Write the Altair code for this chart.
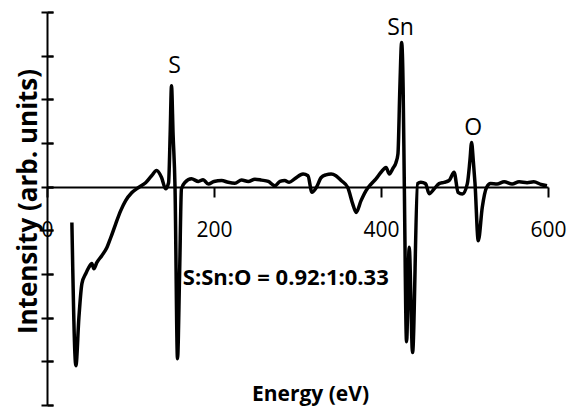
import altair as alt
import pandas as pd

# Spectrum trace (energy in eV, intensity in arbitrary units)
energy = [29.8, 34.6, 38.2, 41.8, 46.5, 50.1, 53.7, 56.1, 59.6, 65.6, 71.6, 76.3, 82.3, 88.3,
          94.2, 101.4, 109.7, 118.1, 125.3, 131.2, 137.2, 142.0, 145.6, 147.5, 149.1, 151.0,
          153.3, 156.3, 158.8, 161.0, 165.4, 173.0, 181.3, 187.0, 193.2, 200.0, 209.2, 217.0,
          225.0, 233.0, 241.0, 249.0, 256.8, 265.0, 272.8, 279.0, 284.7, 290.0, 296.7, 306.6,
          312.5, 317.3, 322.5, 328.4, 334.0, 340.3, 346.0, 352.3, 360.2, 366.2, 370.2, 376.1,
          382.1, 388.1, 394.0, 400.0, 406.0, 410.0, 414.0, 417.9, 420.3, 422.6, 424.7, 426.5,
          427.9, 430.6, 433.8, 437.8, 443.8, 447.7, 453.3, 457.7, 463.7, 469.6, 475.6, 481.6,
          487.5, 492.3, 497.4, 503.4, 506.5, 508.5, 510.5, 512.6, 516.5, 521.3, 526.4, 531.2,
          539.0, 547.5, 557.0, 565.4, 575.0, 583.0, 591.7, 598.8]
intensity = [-0.82, -4.10, -3.00, -2.22, -1.99, -1.85, -1.76, -1.88, -1.74, -1.58, -1.40, -1.17, -0.85, -0.55,
             -0.32, -0.14, -0.02, 0.09, 0.25, 0.37, 0.21, -0.05, 0.09, 1.20, 2.31, 1.20,
             0.00, -3.94, -2.00, -0.05, 0.10, 0.18, 0.12, 0.16, 0.06, 0.12, 0.14, 0.10,
             0.08, 0.15, 0.12, 0.17, 0.15, 0.12, 0.02, 0.12, 0.14, 0.10, 0.18, 0.29,
             0.25, -0.13, -0.02, 0.21, 0.27, 0.29, 0.25, 0.14, -0.02, -0.40, -0.59, -0.32,
             -0.09, 0.06, 0.18, 0.33, 0.44, 0.29, 0.41, 0.55, 0.75, 2.27, 3.30, 2.27,
             0.07, -3.55, -1.39, -3.80, 0.07, 0.10, 0.07, -0.16, -0.05, 0.07, 0.10, 0.14,
             0.33, -0.13, -0.17, 0.07, 0.60, 1.01, 0.60, 0.07, -1.24, -0.47, -0.02, 0.07,
             0.06, 0.11, 0.06, 0.11, 0.09, 0.11, 0.05, 0.02]

# Annotations
ann_text = ["S", "Sn", "O", "S:Sn:O = 0.92:1:0.33"]
ann_energy = [152.7, 423.5, 510.5, 286.0]
ann_intensity = [2.77, 3.64, 1.35, -2.10]
ann_bold = [False, False, False, True]

x_ticks = [0, 200, 400, 600]
y_ticks = [-5, -4, -3, -2, -1, 0, 1, 2, 3, 4]

W, H = 501, 393

spec = pd.DataFrame({"E": energy, "I": intensity})
ann = pd.DataFrame({"t": ann_text, "E": ann_energy, "I": ann_intensity, "b": ann_bold})

xscale = alt.Scale(domain=[0, 600], nice=False)
yscale = alt.Scale(domain=[-5, 4], nice=False)

x_axis = alt.Axis(values=x_ticks, offset=-218, tickSize=10, labelPadding=22,
                  title="Energy (eV)", titleX=263, titleY=207, titleBaseline="middle",
                  titleFontSize=21, titleFontWeight="bold", labelFontSize=21,
                  labelFlush=False, grid=False)
y_axis_left = alt.Axis(values=y_ticks, labels=False, tickSize=6, grid=False,
                       title="Intensity (arb. units)", titleX=-19, titleY=189,
                       titleAngle=-90, titleBaseline="middle", titleAlign="center",
                       titleFontSize=26, titleFontWeight="bold")
y_axis_right = alt.Axis(orient="right", offset=-W, values=y_ticks, labels=False,
                        domain=False, tickSize=6, title=None, grid=False)

line = alt.Chart(spec).mark_line(
    color="black", strokeWidth=3.5, interpolate="monotone", strokeJoin="round"
).encode(
    x=alt.X("E:Q", scale=xscale, axis=x_axis),
    y=alt.Y("I:Q", scale=yscale, axis=y_axis_left),
    order="E:Q",
)

txt_regular = alt.Chart(ann[~ann["b"]]).mark_text(
    font="Open Sans", fontSize=23, color="black", baseline="middle", align="center"
).encode(
    x=alt.X("E:Q", scale=xscale, axis=x_axis),
    y=alt.Y("I:Q", scale=yscale, axis=y_axis_right),
    text="t:N",
)

txt_bold = alt.Chart(ann[ann["b"]]).mark_text(
    font="Open Sans", fontSize=22, fontWeight="bold", color="black",
    baseline="middle", align="center"
).encode(
    x=alt.X("E:Q", scale=xscale, axis=x_axis),
    y=alt.Y("I:Q", scale=yscale, axis=y_axis_right),
    text="t:N",
)

chart = alt.layer(line, txt_regular, txt_bold).resolve_axis(y="independent").properties(
    width=W, height=H,
    padding={"left": 39, "top": 4, "right": 19, "bottom": 6},
    autosize=alt.AutoSizeParams(type="none"),
).configure_view(strokeWidth=0).configure_axis(
    domainColor="black", domainWidth=2, tickColor="black", tickWidth=2,
    labelColor="black", titleColor="black", labelFont="Open Sans", titleFont="Open Sans",
)

chart.save("out.html", embed_options={"renderer": "svg", "actions": False})
